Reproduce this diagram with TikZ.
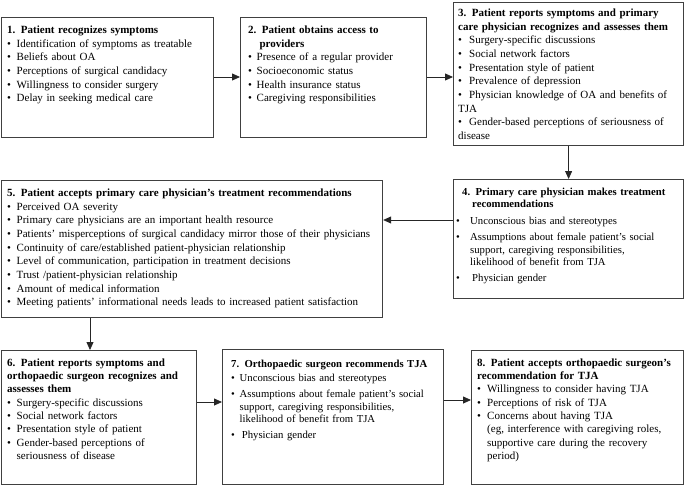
\documentclass[tikz,border=0pt]{standalone}
\usepackage{fontspec}
\setmainfont{Liberation Serif}
\usetikzlibrary{arrows.meta,calc}
\tikzset{
  box/.style={draw=black!75, line width=1.2pt, inner sep=0pt, anchor=north west},
  txt/.style={inner sep=0pt, anchor=north west, align=left, font=\fontsize{11}{13.7}\selectfont},
  tight/.style={font=\fontsize{10.7}{12.8}\selectfont},
  snug/.style={font=\fontsize{11}{13.3}\selectfont},
  arr/.style={draw=black!85, line width=0.8pt, -{Triangle[length=8pt,width=7pt]}},
}
\newcommand\bi[1][9.5pt]{\par\noindent\makebox[#1][l]{\textbullet}\ignorespaces}
\newcommand\cont[1][9.5pt]{\newline\hspace*{#1}\ignorespaces}
\begin{document}
\begin{tikzpicture}[x=1pt,y=-1pt]
\useasboundingbox (0,0) rectangle (685,487);
% boxes
\node[box, minimum width=212pt, minimum height=120pt] (b1) at (1,17) {};
\node[box, minimum width=186pt, minimum height=120pt] (b2) at (240,17) {};
\node[box, minimum width=230pt, minimum height=143pt] (b3) at (453,2) {};
\node[box, minimum width=230pt, minimum height=119pt] (b4) at (453,179) {};
\node[box, minimum width=381pt, minimum height=137pt] (b5) at (1,180) {};
\node[box, minimum width=195pt, minimum height=134pt] (b6) at (1,350) {};
\node[box, minimum width=221pt, minimum height=135pt] (b7) at (222,349) {};
\node[box, minimum width=212pt, minimum height=134pt] (b8) at (471,350) {};
% texts
\node[txt, text width=208pt] (t1) at ($(b1.north west)+(6,8.5)$) {%
\textbf{1. Patient recognizes symptoms}
\bi Identification of symptoms as treatable
\bi Beliefs about OA
\bi Perceptions of surgical candidacy
\bi Willingness to consider surgery
\bi Delay in seeking medical care};
\node[txt, text width=180pt] (t2) at ($(b2.north west)+(8,8.5)$) {%
\textbf{2. Patient obtains access to}\cont[11.3pt]\textbf{providers}
\bi[8.5pt] Presence of a regular provider
\bi[8.5pt] Socioeconomic status
\bi[8.5pt] Health insurance status
\bi[8.5pt] Caregiving responsibilities};
\node[txt, text width=228pt] (t3) at ($(b3.north west)+(5,6.5)$) {%
\textbf{3. Patient reports symptoms and primary\newline care physician recognizes and assesses them}
\bi[11pt] Surgery-specific discussions
\bi[11pt] Social network factors
\bi[11pt] Presentation style of patient
\bi[11pt] Prevalence of depression
\bi[11pt] Physician knowledge of OA and benefits of\newline TJA
\bi[11pt] Gender-based perceptions of seriousness of\newline disease};
\node[txt, tight, text width=228pt] (t4) at ($(b4.north west)+(3,8.5)$) {%
\hspace*{6pt}\textbf{4. Primary care physician makes treatment}\cont[16pt]\textbf{recommendations}\par\vspace{3.5pt}
\bi[14pt] Unconscious bias and stereotypes\par\vspace{3.2pt}
\bi[14pt] Assumptions about female patient's social\cont[14pt]support, caregiving responsibilities,\cont[14pt]likelihood of benefit from TJA\par\vspace{3.2pt}
\bi[16pt] Physician gender};
\node[txt, text width=378pt] (t5) at ($(b5.north west)+(6,8.5)$) {%
\textbf{5. Patient accepts primary care physician's treatment recommendations}
\bi Perceived OA severity
\bi Primary care physicians are an important health resource
\bi Patients' misperceptions of surgical candidacy mirror those of their physicians
\bi Continuity of care/established patient-physician relationship
\bi Level of communication, participation in treatment decisions
\bi Trust /patient-physician relationship
\bi Amount of medical information
\bi Meeting patients' informational needs leads to increased patient satisfaction};
\node[txt, snug, text width=192pt] (t6) at ($(b6.north west)+(6,8.5)$) {%
\textbf{6. Patient reports symptoms and\newline orthopaedic surgeon recognizes and\newline assesses them}
\bi Surgery-specific discussions
\bi Social network factors
\bi Presentation style of patient
\bi Gender-based perceptions of\cont seriousness of disease};
\node[txt, tight, text width=214pt] (t7) at ($(b7.north west)+(9,10.5)$) {%
\textbf{7. Orthopaedic surgeon recommends TJA}\par\vspace{2pt}
\bi[8.5pt] Unconscious bias and stereotypes\par\vspace{2.6pt}
\bi[8.5pt] Assumptions about female patient's social\cont[8.5pt]support, caregiving responsibilities,\cont[8.5pt]likelihood of benefit from TJA\par\vspace{3.2pt}
\bi[10.7pt] Physician gender};
\node[txt, snug, text width=208pt] (t8) at ($(b8.north west)+(6,8.5)$) {%
\textbf{8. Patient accepts orthopaedic surgeon's\newline recommendation for TJA}
\bi[10pt] Willingness to consider having TJA
\bi[10pt] Perceptions of risk of TJA
\bi[10pt] Concerns about having TJA\cont[10pt](eg, interference with caregiving roles,\cont[10pt]supportive care during the recovery\cont[10pt]period)};
% connectors
\coordinate (c12) at ($(b1.north east)+(0,60)$);
\coordinate (c45) at ($(b4.north west)+(0,41)$);
\coordinate (c56) at ($(b6.north west)+(89,0)$);
\coordinate (c67) at ($(b6.north east)+(0,52)$);
\coordinate (c78) at ($(b7.north east)+(0,51)$);
\draw[arr] (c12) -- (c12 -| b2.west);
\draw[arr] (b2.east |- c12) -- (c12 -| b3.west);
\draw[arr] (b3.south) -- (b4.north);
\draw[arr] (c45) -- (c45 -| b5.east);
\draw[arr] (c56 |- b5.south) -- (c56);
\draw[arr] (c67) -- (c67 -| b7.west);
\draw[arr] (c78) -- (c78 -| b8.west);
\end{tikzpicture}
\end{document}
